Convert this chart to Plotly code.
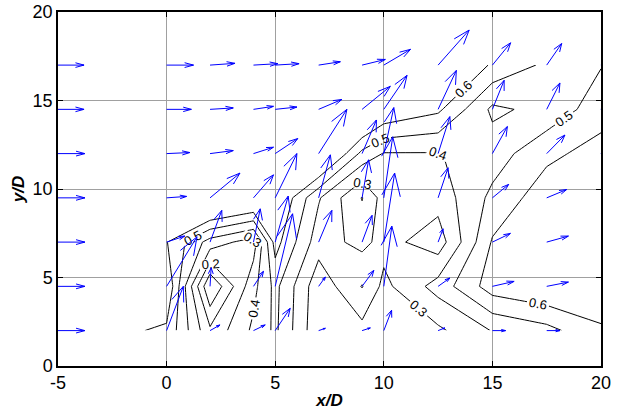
import plotly.graph_objects as go
import numpy as np

# grid (x/D, y/D)
x_grid = [-5, 0, 2, 4, 5, 7, 9, 10, 12.5, 15, 17.5, 20]
y_grid = [2, 4.5, 7, 9.5, 12, 14.5, 17]

# scalar field (rows = y_grid, cols = x_grid)
F_y2   = [0.68, 0.58, 0.22, 0.42, 0.52, 0.22, 0.267, 0.25, 0.28, 0.405, 0.467, 0.585]
F_y4_5 = [0.75, 0.70, 0.00, 0.37, 0.528, 0.2325, 0.405, 0.273, 0.44, 0.65, 0.70, 0.68]
F_y7   = [0.80, 0.605, 0.357, 0.25, 0.64, 0.345, 0.27, 0.337, 0.245, 0.61, 0.70, 0.70]
F_y9_5 = [0.85, 0.80, 0.85, 0.77, 0.727, 0.41, 0.195, 0.345, 0.34, 0.525, 0.66, 0.68]
F_y12  = [0.85, 0.88, 0.90, 0.90, 0.88, 0.82, 0.471, 0.394, 0.395, 0.45, 0.575, 0.64]
F_y14_5 = [0.85, 0.90, 0.90, 0.90, 0.90, 0.88, 0.83, 0.70, 0.62, 0.38, 0.43, 0.555]
F_y17  = [0.85, 0.90, 0.90, 0.90, 0.90, 0.90, 0.86, 0.85, 0.83, 0.58, 0.48, 0.495]

# velocity vectors (arrow components in x/D, y/D units)
U_y2   = [1.24, 0.77, 0.46, 0.54, 0.69, 0.31, 0.38, 0.36, 0.31, 0.61, 0.61, 0.6]
U_y4_5 = [1.24, 1.40, 0.05, 0.46, 0.80, 0.31, 0.54, 0.37, 0.54, 1.00, 1.00, 1.0]
U_y7   = [1.24, 0.84, 0.54, 0.31, 0.60, 0.61, 0.46, 0.50, 0.23, 0.83, 1.00, 1.0]
U_y9_5 = [1.24, 0.92, 1.38, 0.92, 1.00, 0.54, 0.30, 0.41, 0.46, 0.75, 0.92, 0.9]
U_y12  = [1.24, 1.07, 1.07, 0.92, 1.04, 1.30, 0.66, 0.46, 0.54, 0.69, 0.84, 0.8]
U_y14_5 = [1.20, 1.14, 1.07, 0.92, 1.00, 1.07, 1.30, 1.07, 0.84, 0.54, 0.61, 0.6]
U_y17  = [1.20, 1.24, 1.15, 1.12, 1.10, 1.00, 1.07, 1.23, 1.43, 0.84, 0.69, 0.7]

V_y2   = [0.0, 2.50, 0.32, 0.32, 1.26, 0.13, 0.15, 1.15, 0.15, 0.0, 0.0, 0.0]
V_y4_5 = [0.0, 2.80, 1.05, 0.85, 4.10, 0.53, 0.90, 3.40, 0.47, 0.28, 0.24, 0.2]
V_y7   = [0.0, 0.34, 1.79, 1.88, 2.60, 1.79, 1.51, 3.90, 0.75, 0.49, 0.34, 0.3]
V_y9_5 = [0.0, 0.08, 1.40, 1.30, 2.50, 2.43, 2.15, 3.45, 1.70, 0.76, 0.47, 0.4]
V_y12  = [0.0, 0.06, 0.17, 0.36, 0.85, 2.50, 1.90, 2.60, 2.09, 1.53, 1.05, 1.0]
V_y14_5 = [0.0, 0.00, 0.08, 0.17, 0.13, 0.56, 1.30, 1.92, 2.20, 1.64, 1.49, 1.4]
V_y17  = [0.0, 0.00, 0.10, 0.08, 0.08, 0.19, 0.32, 0.89, 1.98, 1.26, 1.22, 1.2]

x_ticks = [-5, 0, 5, 10, 15, 20]
x_ticktext = ['-5', '0', '5', '10', '15', '20']
y_ticks = [0, 5, 10, 15, 20]

Z = np.array([F_y2, F_y4_5, F_y7, F_y9_5, F_y12, F_y14_5, F_y17])
U = np.array([U_y2, U_y4_5, U_y7, U_y9_5, U_y12, U_y14_5, U_y17])
V = np.array([V_y2, V_y4_5, V_y7, V_y9_5, V_y12, V_y14_5, V_y17])

fig = go.Figure()

fig.add_trace(go.Contour(
    x=x_grid, y=y_grid, z=Z,
    contours=dict(start=0.1, end=0.6, size=0.1, coloring='lines',
                  showlabels=True,
                  labelfont=dict(size=13, color='black', family='Liberation Sans'),
                  labelformat='.1f'),
    colorscale=[[0, 'black'], [1, 'black']],
    line=dict(width=1, smoothing=0),
    showscale=False, hoverinfo='skip'))

# quiver (MATLAB-style arrow heads)
alpha, beta = 0.33, 0.33
qx, qy = [], []
XX, YY = np.meshgrid(x_grid, y_grid)
for x0, y0, u, v in zip(XX.ravel(), YY.ravel(), U.ravel(), V.ravel()):
    tx, ty = x0 + u, y0 + v
    qx += [x0, tx, None,
           tx - alpha * (u + beta * v), tx, tx - alpha * (u - beta * v), None]
    qy += [y0, ty, None,
           ty - alpha * (v - beta * u), ty, ty - alpha * (v + beta * u), None]
fig.add_trace(go.Scatter(x=qx, y=qy, mode='lines',
                         line=dict(color='rgb(0,0,255)', width=1),
                         hoverinfo='skip', showlegend=False))

axis_common = dict(showline=True, linecolor='black', linewidth=1.5, mirror='ticks',
                   ticks='inside', ticklen=5, tickcolor='black',
                   showgrid=True, gridcolor='rgb(160,160,160)', gridwidth=1,
                   zeroline=False, automargin=False,
                   tickfont=dict(family='Liberation Sans', size=18, color='black'))

fig.update_layout(
    width=619, height=412,
    margin=dict(l=58, r=18, t=12, b=46),
    paper_bgcolor='white', plot_bgcolor='white',
    showlegend=False,
    xaxis=dict(range=[-5, 20], tickvals=x_ticks, ticktext=x_ticktext,
               title=dict(text='<b><i>x/D</i></b>', standoff=2,
                          font=dict(family='Liberation Sans', size=17, color='black')),
               **axis_common),
    yaxis=dict(range=[0, 20], tickvals=y_ticks,
               title=dict(text='<b><i>y/D</i></b>', standoff=4,
                          font=dict(family='Liberation Sans', size=17, color='black')),
               **axis_common),
)

fig.write_html("out.html")
